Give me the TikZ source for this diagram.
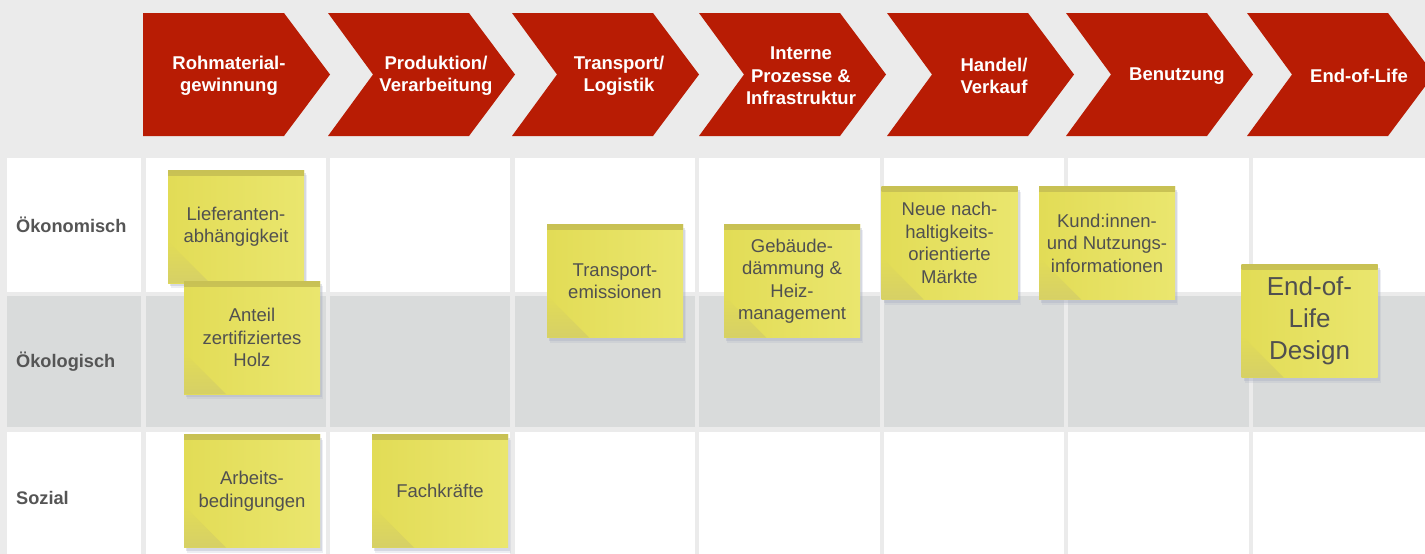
\documentclass[tikz,border=0pt]{standalone}
\usepackage{fontspec}
\setmainfont{Liberation Sans}
\usetikzlibrary{shadows}

\definecolor{bg}{HTML}{EBEBEB}
\definecolor{rowgray}{HTML}{D9DBDB}
\definecolor{chev}{RGB}{184,28,4}
\definecolor{labelgray}{HTML}{555555}
\definecolor{notetext}{HTML}{505050}
\definecolor{noteA}{RGB}{226,220,86}
\definecolor{noteB}{RGB}{234,230,110}
\definecolor{noteTop}{RGB}{200,193,84}
\definecolor{noteCurl}{RGB}{214,208,102}
\definecolor{noteshadow}{RGB}{160,166,190}

\tikzset{
  head/.style={text=white, font=\bfseries\fontsize{18.5}{22.5}\selectfont,
    align=center, inner sep=0},
  rowlabel/.style={text=labelgray, font=\bfseries\fontsize{18.2}{22}\selectfont,
    anchor=west, inner sep=0},
  note/.style={minimum width=136pt, minimum height=113pt, inner sep=0,
    align=center, text=notetext, font=\fontsize{18.5}{22.5}\selectfont,
    general shadow={shadow xshift=3pt, shadow yshift=-5pt, fill=noteshadow, opacity=.18},
    general shadow={shadow xshift=2pt, shadow yshift=-3pt, fill=noteshadow, opacity=.3},
    left color=noteA, right color=noteB,
    path picture={
      \shade[top color=noteTop, bottom color=noteA]
        (path picture bounding box.north west) rectangle
        ([yshift=-5pt]path picture bounding box.north east);
      \shade[shading angle=-45, top color=noteA, bottom color=noteCurl]
        (path picture bounding box.south west) -- ++(0,42pt) -- ++(42pt,-42pt) -- cycle;
    }},
  bignote/.style={note, font=\fontsize{26}{32}\selectfont},
}

\begin{document}
\begin{tikzpicture}[x=1pt, y=-1pt]
  \useasboundingbox (0,0) rectangle (1425,554);
  \clip (0,0) rectangle (1425,554);
  \fill[bg] (0,0) rectangle (1425,554);

  % grid of cells
  \foreach \ya/\yb/\c in {158/292/white, 296/427/rowgray, 432/560/white}
    \foreach \xa/\xb in {7/141, 146/326, 330/510, 515/695, 699/880, 884/1064, 1068/1249, 1253/1430}
      \fill[\c] (\xa,\ya) rectangle (\xb,\yb);

  % process chevrons
  \fill[chev] (143,13) -- (284,13) -- (330,74.5) -- (284,136) -- (143,136) -- cycle;
  \foreach \l in {328, 512, 699, 887, 1066, 1247}
    \fill[chev] (\l,13) -- (\l+141,13) -- (\l+187,74.5) -- (\l+141,136)
      -- (\l,136) -- (\l+45,74.5) -- cycle;

  \node[head] (h1) at (229,76) {Rohmaterial-\\gewinnung};
  \node[head] (h2) at (436,76) {Produktion/\\Verarbeitung};
  \node[head] (h3) at (619,76) {Transport/\\Logistik};
  \node[head] (h4) at (801,76) {Interne\\Prozesse \&\\Infrastruktur};
  \node[head] (h5) at (994,76) {Handel/\\Verkauf};
  \node[head] (h6) at (1177,76) {Benutzung};
  \node[head] (h7) at (1359,76) {End-of-Life};

  % dimension labels
  \node[rowlabel] (r1) at (16,225) {Ökonomisch};
  \node[rowlabel] (r2) at (16,362) {Ökologisch};
  \node[rowlabel] (r3) at (16,498) {Sozial};

  % sticky notes
  \node[note] (n1) at (236,226.5) {Lieferanten-\\abhängigkeit};
  \node[note] (n2) at (252,337.5) {Anteil\\zertifiziertes\\Holz};
  \node[note] (n3) at (252,491) {Arbeits-\\bedingungen};
  \node[note] (n4) at (440,491) {Fachkräfte};
  \node[note] (n5) at (615,281) {Transport-\\emissionen};
  \node[note] (n6) at (792,281) {Gebäude-\\dämmung \&\\Heiz-\\management};
  \node[note] (n7) at (949.5,243) {Neue nach-\\haltigkeits-\\orientierte\\Märkte};
  \node[note] (n8) at (1107,243) {Kund:innen-\\und Nutzungs-\\informationen};
  \node[bignote] (n9) at (1309.5,321) {End-of-\\Life\\Design};
\end{tikzpicture}
\end{document}
